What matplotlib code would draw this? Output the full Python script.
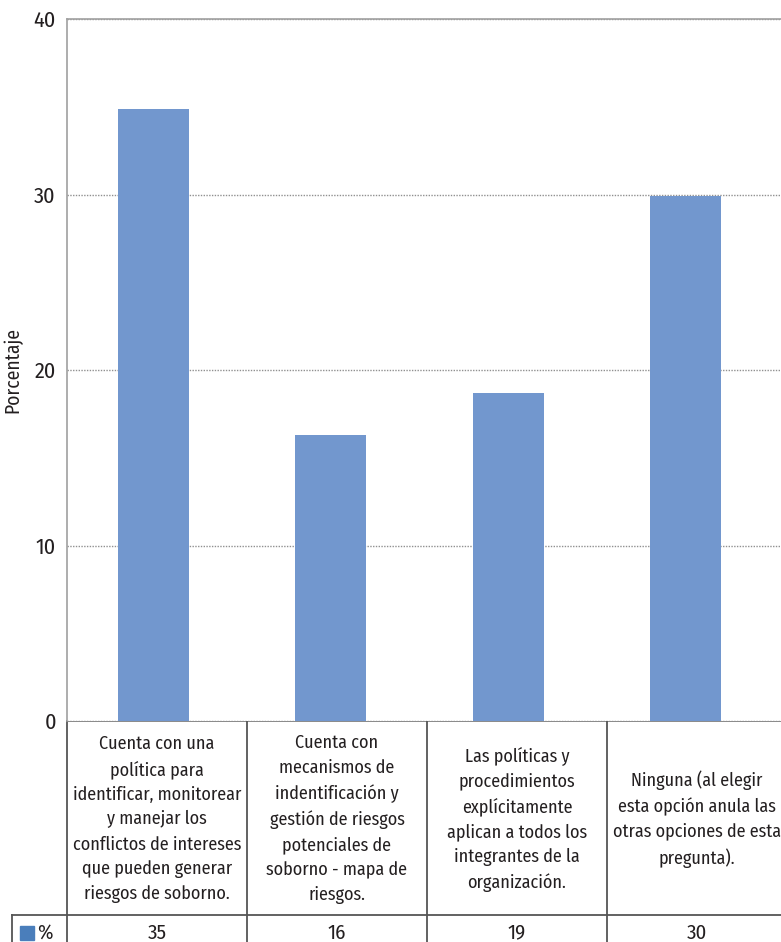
import numpy as np
import matplotlib
matplotlib.use("Agg")
import matplotlib.pyplot as plt
from matplotlib import font_manager as fm
from matplotlib.patches import Rectangle

# datos
categorias = [
    "Cuenta con una\npolítica para\nidentificar, monitorear\ny manejar los\nconflictos de intereses\nque pueden generar\nriesgos de soborno.",
    "Cuenta con\nmecanismos de\nindentificación y\ngestión de riesgos\npotenciales de\nsoborno - mapa de\nriesgos.",
    "Las políticas y\nprocedimientos\nexplícitamente\naplican a todos los\nintegrantes de la\norganización.",
    "Ninguna (al elegir\nesta opción anula las\notras opciones de esta\npregunta).",
]
porcentaje = [34.9, 16.3, 18.7, 29.9]
tabla_valores = ["35", "16", "19", "30"]
serie = "%"
yticks = [0, 10, 20, 30, 40]

# fuente condensada (parecida a Myriad Condensed) si está disponible
disponibles = {f.name for f in fm.fontManager.ttflist}
fuente = next((n for n in ["Fira Sans Condensed", "PT Sans Narrow", "Archivo Narrow"]
               if n in disponibles), None)
plt.rcParams['font.family'] = [fuente, 'DejaVu Sans'] if fuente else ['DejaVu Sans']

W, H = 781, 942
fig = plt.figure(figsize=(W / 100, H / 100), dpi=100)

# ejes de barras (en píxeles: izquierda 67, arriba 19, cero en 721)
ax = fig.add_axes([67 / W, (H - 721) / H, 720 / W, 702 / H])
x = np.arange(len(porcentaje))
ax.bar(x, porcentaje, width=0.4, color="#7297ce", zorder=3)
ax.set_xlim(-0.487, 3.569)
ax.set_ylim(0, 40)
ax.set_yticks(yticks)
ax.set_yticklabels([str(v) for v in yticks], fontsize=16, color="#231f20")
ax.tick_params(axis="y", length=0, pad=8)
ax.set_xticks([])
ax.yaxis.grid(True, linestyle=(0, (1, 1)), color="#909090", linewidth=1, zorder=0)
for s in ["left", "top"]:
    ax.spines[s].set_color("#a0a0a0")
    ax.spines[s].set_linewidth(1.2)
ax.spines["bottom"].set_visible(False)
ax.spines["right"].set_visible(False)
ax.set_ylabel("Porcentaje", fontsize=14, color="#231f20")
ax.yaxis.set_label_coords(-45 / 720, 0.5)

# tabla de datos debajo (coordenadas en píxeles)
tb = fig.add_axes([0, 0, 1, 1], zorder=-1)
tb.set_xlim(0, W)
tb.set_ylim(H, 0)
tb.axis("off")
lc = "#555555"
col0, colw = 67, 180
top, mid = 721, 915
tb.plot([col0, W], [top, top], color="#808080", lw=1.3)
tb.plot([12, W], [mid, mid], color=lc, lw=1.3)
tb.plot([12, 12], [mid, H], color=lc, lw=1.3)
for i in range(len(categorias)):
    x0 = col0 + colw * i
    tb.plot([x0, x0], [top, H], color=lc, lw=1.3)
    cx = x0 + colw / 2
    tb.text(cx, (top + mid) / 2 + 1, categorias[i], ha="center", va="center",
            fontsize=13, color="#231f20", linespacing=1.5)
    tb.text(cx, 933, tabla_valores[i], ha="center", va="center",
            fontsize=15, color="#231f20")
tb.add_patch(Rectangle((20, 926), 14, 14, color="#4a7ebb"))
tb.text(37, 933, serie, ha="left", va="center", fontsize=15, color="#231f20")

fig.savefig("out.png", dpi=100)
